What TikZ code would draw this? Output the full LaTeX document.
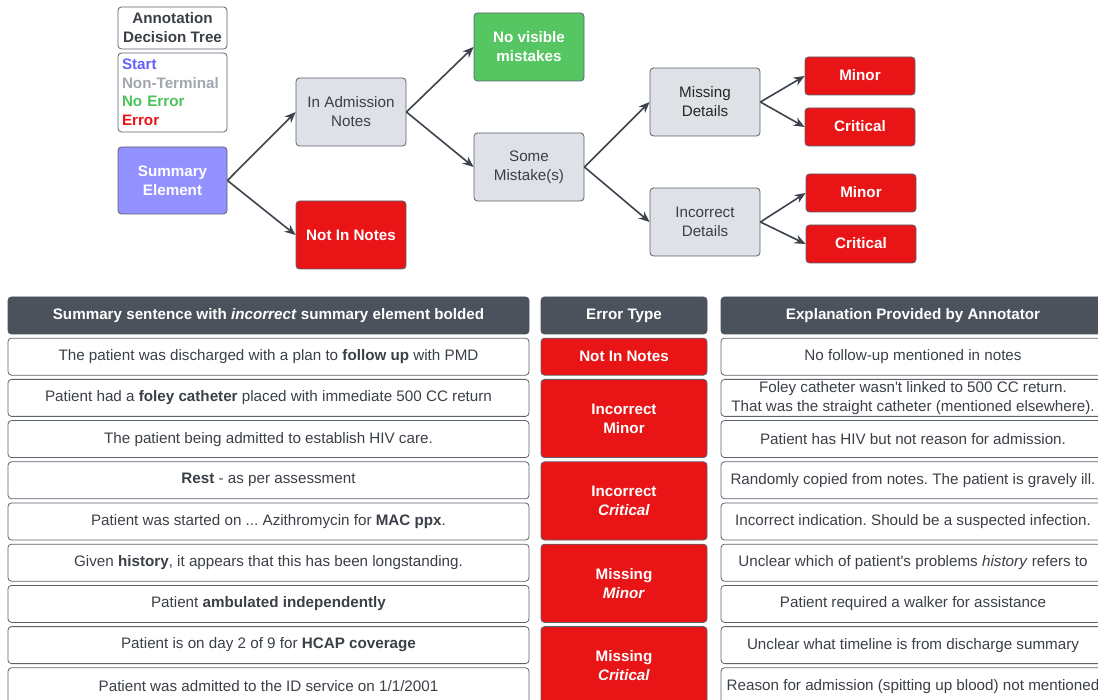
\documentclass[tikz,border=0pt]{standalone}
\usepackage{fontspec}
\setmainfont{Liberation Sans}[Ligatures=TeXOff]
\usetikzlibrary{arrows.meta}
\frenchspacing
\definecolor{errred}{HTML}{E81416}
\definecolor{okgreen}{HTML}{55C662}
\definecolor{startblue}{HTML}{9391FF}
\definecolor{ntgray}{HTML}{DEE1E6}
\definecolor{edgec}{HTML}{5C636C}
\definecolor{arrowc}{HTML}{3C434D}
\definecolor{hdr}{HTML}{4B525C}
\definecolor{txt}{HTML}{3B4048}
\definecolor{legstart}{HTML}{6262FA}
\definecolor{legnt}{HTML}{A2A7AF}
\definecolor{legok}{HTML}{4CC35A}
\newcommand\myfs{\fontsize{15.2}{19}\selectfont}
\tikzset{
  base/.style={rounded corners=3.5pt, line width=0.8pt, draw=edgec, align=center, inner sep=0pt, font=\myfs},
  treebox/.style={base, minimum width=110pt, minimum height=68pt},
  termbox/.style={base, minimum width=110pt, minimum height=38pt, text depth=2pt},
  graybox/.style={fill=ntgray, text=txt},
  redbox/.style={fill=errred, text=white, font=\myfs\bfseries},
  greenbox/.style={fill=okgreen, text=white, font=\myfs\bfseries},
  conn/.style={draw=arrowc, line width=1.6pt, -{Stealth[length=11pt,width=9pt]}},
  colA/.style={base, minimum width=521pt, minimum height=37pt},
  colB/.style={base, minimum width=166pt, minimum height=37pt},
  colC/.style={base, minimum width=384pt, minimum height=37pt},
  hdrcell/.style={fill=hdr, draw=hdr, text=white, font=\myfs\bfseries},
  cell/.style={fill=white, text=txt},
  redcell/.style={fill=errred, text=white, font=\myfs\bfseries},
}
\begin{document}
\begin{tikzpicture}[x=1pt,y=-1pt]
\useasboundingbox (0,0) rectangle (1098,700);
\clip (0,0) rectangle (1098,700);
% legend
\node[base, minimum width=109pt, minimum height=42pt, fill=white, text=txt, font=\myfs\bfseries] (legt) at (172.5,28) {Annotation\\Decision Tree};
\node[base, minimum width=109pt, minimum height=79pt, fill=white, font=\fontsize{15.2}{18.5}\selectfont\bfseries, align=left, text width=101pt] (leg) at (172.5,92.5)
  {\textcolor{legstart}{Start}\\\textcolor{legnt}{Non-Terminal}\\\textcolor{legok}{No Error}\\\textcolor{errred}{Error}};
% tree
\node[treebox, fill=startblue, text=white, font=\myfs\bfseries, minimum width=109pt, minimum height=67pt] (se) at (172.5,180.5) {Summary\\Element};
\node[treebox, graybox] (ian) at (351,112) {In Admission\\Notes};
\node[treebox, redbox] (nin) at (351,235) {Not In Notes};
\node[treebox, greenbox] (nvm) at (529,47) {No visible\\mistakes};
\node[treebox, graybox] (sm) at (529,167) {Some\\Mistake(s)};
\node[treebox, graybox, text=black!85] (md) at (705,102) {Missing\\Details};
\node[treebox, graybox] (id) at (705,222) {Incorrect\\Details};
\node[termbox, redbox] (mdmin) at (860,76) {Minor};
\node[termbox, redbox] (mdcrit) at (860,127) {Critical};
\node[termbox, redbox] (idmin) at (861,193) {Minor};
\node[termbox, redbox] (idcrit) at (861,244) {Critical};
\draw[conn] (se.east) -- (ian.west);
\draw[conn] (se.east) -- (nin.west);
\draw[conn] (ian.east) -- (nvm.west);
\draw[conn] (ian.east) -- (sm.west);
\draw[conn] (sm.east) -- (md.west);
\draw[conn] (sm.east) -- (id.west);
\draw[conn] (md.east) -- (mdmin.west);
\draw[conn] (md.east) -- (mdcrit.west);
\draw[conn] (id.east) -- (idmin.west);
\draw[conn] (id.east) -- (idcrit.west);
% table header
\node[colA, hdrcell] (h1) at (268.5,315.5) {Summary sentence with \textit{incorrect} summary element bolded};
\node[colB, hdrcell] (h2) at (624,315.5) {Error Type};
\node[colC, hdrcell] (h3) at (913,315.5) {Explanation Provided by Annotator};
% column 1
\node[colA, cell] (a1) at (268.5,356.7) {The patient was discharged with a plan to \textbf{follow up} with PMD};
\node[colA, cell] (a2) at (268.5,397.9) {Patient had a \textbf{foley catheter} placed with immediate 500 CC return};
\node[colA, cell] (a3) at (268.5,439.1) {The patient being admitted to establish HIV care.};
\node[colA, cell] (a4) at (268.5,480.3) {\textbf{Rest} - as per assessment};
\node[colA, cell] (a5) at (268.5,521.5) {Patient was started on ... Azithromycin for \textbf{MAC ppx}.};
\node[colA, cell] (a6) at (268.5,562.7) {Given \textbf{history}, it appears that this has been longstanding.};
\node[colA, cell] (a7) at (268.5,603.9) {Patient \textbf{ambulated independently}};
\node[colA, cell] (a8) at (268.5,645.1) {Patient is on day 2 of 9 for \textbf{HCAP coverage}};
\node[colA, cell] (a9) at (268.5,686.3) {Patient was admitted to the ID service on 1/1/2001};
% column 2
\node[colB, redcell] (b1) at (624,356.7) {Not In Notes};
\node[colB, redcell, minimum height=78.2pt] (b2) at (624,418.5) {Incorrect\\Minor};
\node[colB, redcell, minimum height=78.2pt] (b3) at (624,500.9) {Incorrect\\\textit{Critical}};
\node[colB, redcell, minimum height=78.2pt] (b4) at (624,583.3) {Missing\\\textit{Minor}};
\node[colB, redcell, minimum height=78.2pt] (b5) at (624,665.7) {Missing\\\textit{Critical}};
% column 3
\node[colC, cell] (c1) at (913,356.7) {No follow-up mentioned in notes};
\node[colC, cell] (c2) at (913,397.9) {Foley catheter wasn't linked to 500 CC return.\\That was the straight catheter (mentioned elsewhere).};
\node[colC, cell] (c3) at (913,439.1) {Patient has HIV but not reason for admission.};
\node[colC, cell] (c4) at (913,480.3) {Randomly copied from notes. The patient is gravely ill.};
\node[colC, cell] (c5) at (913,521.5) {Incorrect indication. Should be a suspected infection.};
\node[colC, cell] (c6) at (913,562.7) {Unclear which of patient's problems \textit{history} refers to};
\node[colC, cell] (c7) at (913,603.9) {Patient required a walker for assistance};
\node[colC, cell] (c8) at (913,645.1) {Unclear what timeline is from discharge summary};
\node[colC, cell] (c9) at (913,686.3) {Reason for admission (spitting up blood) not mentioned};
\end{tikzpicture}
\end{document}
